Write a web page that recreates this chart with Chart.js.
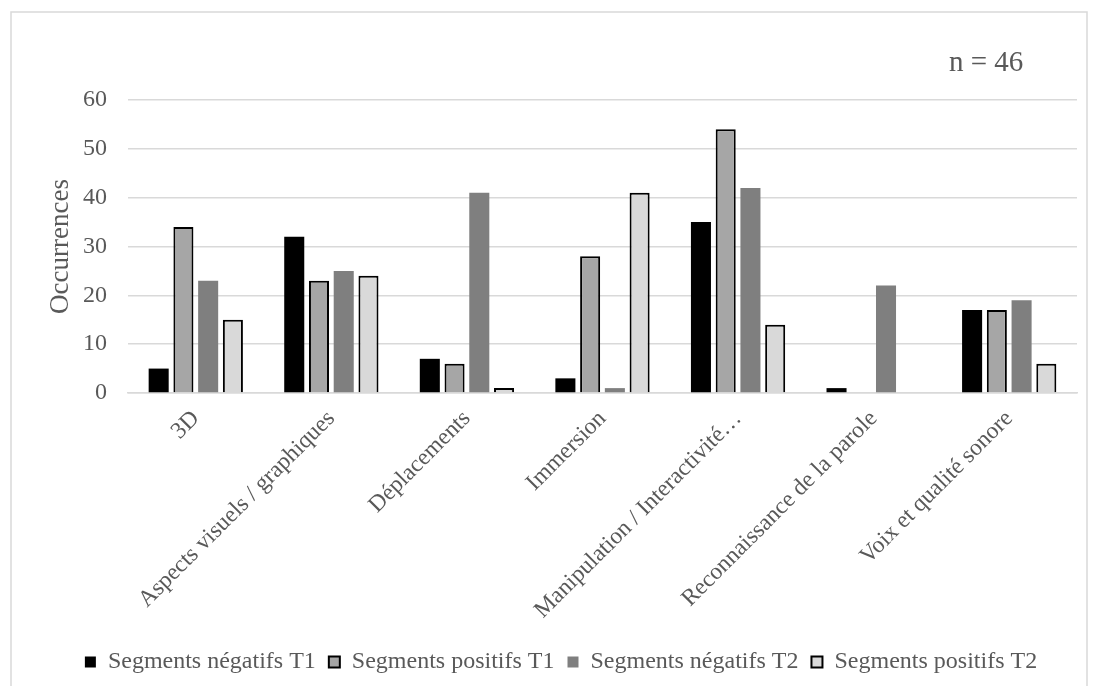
<!DOCTYPE html>
<html>
<head>
<meta charset="utf-8">
<script src="https://cdn.jsdelivr.net/npm/chart.js@4"></script>
<style>
  html, body { margin: 0; padding: 0; background: #fff; }
  #wrap { position: relative; width: 1097px; height: 686px; }
</style>
</head>
<body>
<div id="wrap"><canvas id="chart" width="1097" height="686"></canvas></div>
<script>
// categories and series
const categories = [
  "3D",
  "Aspects visuels / graphiques",
  "Déplacements",
  "Immersion",
  "Manipulation / Interactivité…",
  "Reconnaissance de la parole",
  "Voix et qualité sonore",
];
const negT1 = [5, 32, 7, 3, 35, 1, 17];
const posT1 = [34, 23, 6, 28, 54, 0, 17];
const negT2 = [23, 25, 41, 1, 42, 22, 19];
const posT2 = [15, 24, 1, 41, 14, 0, 6];
const yTicks = [0, 10, 20, 30, 40, 50, 60];

const FONT = "'Liberation Serif', 'Times New Roman', serif";
const TXT = "#595959";

// frame + "n = 46" note
const extras = {
  id: "extras",
  beforeDraw(chart) {
    const c = chart.ctx;
    c.save();
    c.strokeStyle = "#d9d9d9";
    c.lineWidth = 1.5;
    c.strokeRect(11, 12, 1076, 720);
    c.restore();
  },
  afterDraw(chart) {
    const c = chart.ctx;
    c.save();
    c.font = "29px " + FONT;
    c.fillStyle = TXT;
    c.textAlign = "left";
    c.textBaseline = "middle";
    c.fillText("n = 46", 949, 63);
    c.restore();
  },
};

const mk = (label, data, bg, border, bw) => ({
  label, data,
  backgroundColor: bg,
  borderColor: border,
  borderWidth: bw,
  borderSkipped: "bottom",
  barPercentage: 0.81,
  categoryPercentage: 0.73,
});

new Chart(document.getElementById("chart"), {
  type: "bar",
  data: {
    labels: categories,
    datasets: [
      mk("Segments négatifs T1", negT1, "#000000", "#000000", 0),
      mk("Segments positifs T1", posT1, "#a6a6a6", "#000000", 2),
      mk("Segments négatifs T2", negT2, "#7f7f7f", "#7f7f7f", 0),
      mk("Segments positifs T2", posT2, "#d9d9d9", "#000000", 2),
    ],
  },
  options: {
    responsive: false,
    animation: false,
    layout: { padding: { top: 100, left: 45, right: 20, bottom: 2 } },
    plugins: {
      tooltip: { enabled: false },
      legend: {
        position: "bottom",
        labels: {
          font: { family: FONT, size: 24 },
          color: TXT,
          boxWidth: 11,
          boxHeight: 11,
          padding: 13,
        },
      },
    },
    scales: {
      y: {
        min: 0,
        max: 60,
        afterBuildTicks: (axis) => { axis.ticks = yTicks.map((v) => ({ value: v })); },
        afterFit: (s) => { s.width = 83; },
        ticks: { font: { family: FONT, size: 24 }, color: TXT, padding: 21 },
        grid: { color: "#d9d9d9", lineWidth: 1.5, drawTicks: false },
        border: { display: false },
        title: {
          display: true,
          text: "Occurrences",
          font: { family: FONT, size: 27 },
          color: TXT,
          padding: { top: 0, bottom: 6 },
        },
      },
      x: {
        afterFit: (s) => { s.height = 244; },
        ticks: {
          font: { family: FONT, size: 23.5 },
          color: TXT,
          maxRotation: 45,
          minRotation: 45,
          autoSkip: false,
          padding: 4,
        },
        grid: { display: false },
        border: { color: "#d9d9d9", width: 1.5 },
      },
    },
  },
  plugins: [extras],
});
</script>
</body>
</html>
